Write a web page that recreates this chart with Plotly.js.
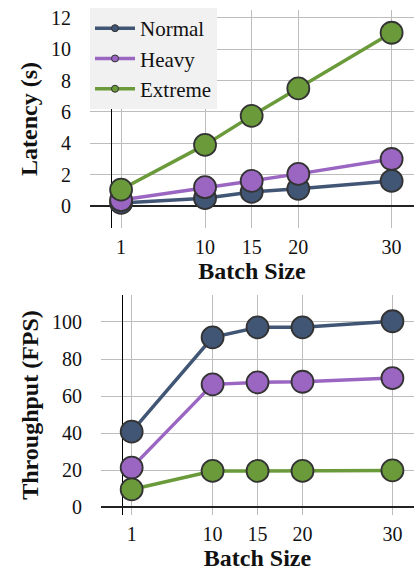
<!DOCTYPE html>
<html>
<head>
<meta charset="utf-8">
<script src="https://cdn.plot.ly/plotly-3.0.1.min.js"></script>
<style>
html,body{margin:0;padding:0;background:#fff;}
#chart{width:414px;height:572px;}
</style>
</head>
<body>
<div id="chart"></div>
<script>
const batchSizes = [1, 10, 15, 20, 30];
const seriesNames = ["Normal", "Heavy", "Extreme"];
const latencyNormal = [0.2, 0.5, 0.9, 1.1, 1.6];
const latencyHeavy = [0.38, 1.2, 1.6, 2.05, 3.0];
const latencyExtreme = [1.05, 3.9, 5.75, 7.5, 11.05];
const fpsNormal = [40.7, 91.7, 97.1, 97.1, 100.4];
const fpsHeavy = [21.3, 66.3, 67.4, 67.7, 69.7];
const fpsExtreme = [9.5, 19.5, 19.5, 19.5, 19.8];
const xTicks = [1, 10, 15, 20, 30];
const latencyTicks = [0, 2, 4, 6, 8, 10, 12];
const fpsTicks = [0, 20, 40, 60, 80, 100];

const colors = ["#415574", "#9b66c2", "#6a9a3a"];
const FONT = "Liberation Serif";

function trace(y, i, xa, ya) {
  return {
    x: batchSizes, y: y, name: seriesNames[i], type: "scatter", mode: "lines+markers",
    xaxis: xa, yaxis: ya, showlegend: false, cliponaxis: false,
    line: {color: colors[i], width: 3.5},
    marker: {color: colors[i], size: 22, line: {color: "#333333", width: 1.8}}
  };
}
function legendEntry(i) {
  return {
    x: [null], y: [null], name: seriesNames[i], type: "scatter", mode: "lines+markers",
    xaxis: "x", yaxis: "y", showlegend: true,
    line: {color: colors[i], width: 3.5},
    marker: {color: colors[i], size: 7, line: {color: "#333333", width: 1}}
  };
}

const data = [
  trace(latencyNormal, 0, "x", "y"),
  trace(latencyHeavy, 1, "x", "y"),
  trace(latencyExtreme, 2, "x", "y"),
  trace(fpsNormal, 0, "x2", "y2"),
  trace(fpsHeavy, 1, "x2", "y2"),
  trace(fpsExtreme, 2, "x2", "y2"),
  legendEntry(0), legendEntry(1), legendEntry(2)
];

const tickFont = {family: FONT, size: 20, color: "#111111"};
const xCommon = {
  tickvals: xTicks, ticktext: xTicks.map(String),
  showgrid: true, gridcolor: "#bdbdbd", gridwidth: 1,
  zeroline: true, zerolinecolor: "#000000", zerolinewidth: 1.3,
  showline: false, ticks: "outside", ticklen: 1, tickcolor: "rgba(0,0,0,0)",
  tickfont: tickFont,
  fixedrange: true
};
const yCommon = {
  showgrid: true, gridcolor: "#bdbdbd", gridwidth: 1,
  zeroline: true, zerolinecolor: "#222222", zerolinewidth: 1.6,
  showline: false, ticks: "outside", ticklen: 14, tickcolor: "rgba(0,0,0,0)",
  tickfont: tickFont,
  fixedrange: true
};
const titleFont = {family: FONT, size: 24, color: "#111111", weight: "bold"};

const layout = {
  width: 414, height: 572,
  margin: {l: 0, r: 0, t: 0, b: 0},
  paper_bgcolor: "#ffffff", plot_bgcolor: "#ffffff",
  showlegend: true,
  legend: {
    x: 0.2174, y: 0.986, xanchor: "left", yanchor: "top",
    bgcolor: "#f1f1f1", borderwidth: 0,
    font: {family: FONT, size: 21, color: "#111111"},
    itemwidth: 40, tracegroupgap: 0
  },
  xaxis: Object.assign({}, xCommon, {
    domain: [0.2174, 1], anchor: "y", range: [-2.33, 32.4],
    title: {text: "Batch Size", font: titleFont, standoff: 0}
  }),
  yaxis: Object.assign({}, yCommon, {
    domain: [0.6014, 0.9825], anchor: "x", range: [-1.4, 12.5],
    tickvals: latencyTicks, ticktext: latencyTicks.map(String),
    title: {text: "Latency (s)", font: titleFont, standoff: 6}
  }),
  xaxis2: Object.assign({}, xCommon, {
    domain: [0.244, 1], anchor: "y2", range: [-2.41, 32.4],
    title: {text: "Batch Size", font: titleFont, standoff: 0}
  }),
  yaxis2: Object.assign({}, yCommon, {
    domain: [0.0997, 0.4843], anchor: "x2", range: [-4.3, 114.6],
    tickvals: fpsTicks, ticktext: fpsTicks.map(String),
    title: {text: "Throughput (FPS)", font: titleFont, standoff: 6}
  })
};

Plotly.newPlot("chart", data, layout, {displayModeBar: false, staticPlot: true});
</script>
</body>
</html>
